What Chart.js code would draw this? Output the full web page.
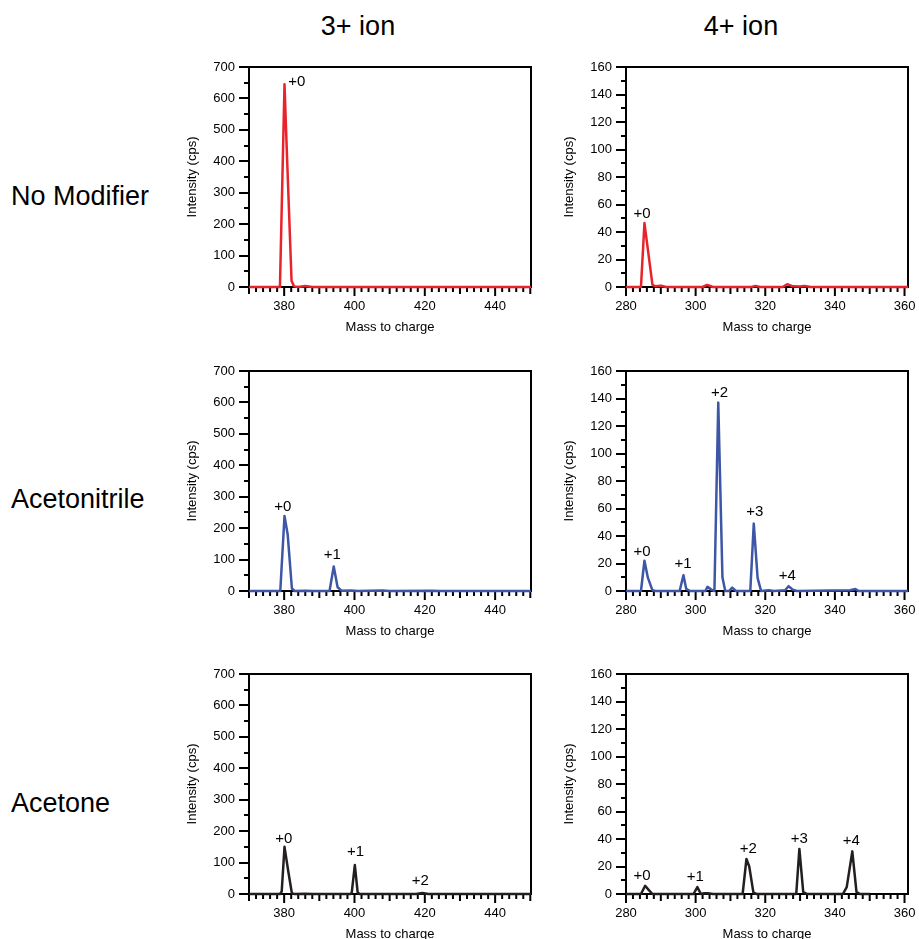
<!DOCTYPE html>
<html><head><meta charset="utf-8">
<script src="https://cdn.jsdelivr.net/npm/chart.js@4"></script>
<style>
html,body{margin:0;padding:0;background:#fff;overflow:hidden;width:919px;height:939px;}
canvas{position:absolute;}
.t{position:absolute;font-family:"Liberation Sans",Arial,Helvetica,sans-serif;font-size:27px;color:#000;white-space:nowrap;line-height:1;}
</style></head><body>
<div class="t" style="left:358px;top:26px;transform:translate(-50%,-50%)">3+ ion</div>
<div class="t" style="left:741px;top:26px;transform:translate(-50%,-50%)">4+ ion</div>
<div class="t" style="left:11px;top:196px;transform:translateY(-50%)">No Modifier</div>
<div class="t" style="left:11px;top:499px;transform:translateY(-50%)">Acetonitrile</div>
<div class="t" style="left:11px;top:803px;transform:translateY(-50%)">Acetone</div>
<canvas id="c1" width="363" height="278" style="left:180px;top:57px"></canvas>
<canvas id="c2" width="362" height="278" style="left:557px;top:57px"></canvas>
<canvas id="c3" width="363" height="278" style="left:180px;top:361px"></canvas>
<canvas id="c4" width="362" height="278" style="left:557px;top:361px"></canvas>
<canvas id="c5" width="363" height="278" style="left:180px;top:664px"></canvas>
<canvas id="c6" width="362" height="278" style="left:557px;top:664px"></canvas>
<script>
// ---- tick labels ----
const yTicks3 = [0,100,200,300,400,500,600,700];
const yTicks4 = [0,20,40,60,80,100,120,140,160];
const xTicks3 = [380,400,420,440];
const xTicks4 = [280,300,320,340,360];

// ---- No Modifier, 3+ ----
const nm3X = [370,378.8,380.1,380.7,382.1,382.8,384,386,388,450.2];
const nm3Y = [0,0,645,450,20,2,0,3,0,0];
// ---- No Modifier, 4+ ----
const nm4X = [280,284.3,285.3,287.6,288.5,290,291.5,302,303.3,305,316,317.2,318.5,325,326.3,328,330,331.3,333,361];
const nm4Y = [0,0,46.5,1.5,0.5,1,0,0,1.5,0,0,0.8,0,0,2,0.5,0.3,0.8,0,0];
// ---- Acetonitrile, 3+ ----
const acn3X = [370,378.9,380.1,381,382.2,383,386,388,392.9,394.1,395.2,396.3,399,401,408,410,422,424,450.2];
const acn3Y = [0,0,239,180,8,0,1,0,0,78,12,1,1.5,0,1.5,0,1,0,0];
// ---- Acetonitrile, 4+ ----
const acn4X = [280,284.3,285.3,286.3,287.6,288.5,295.4,296.5,297.3,298.4,302.8,303.4,304.5,305.4,306.5,307.7,308.5,309.6,310.5,311.6,315.7,316.7,317.8,318.8,321,322.5,325.7,326.7,327.9,329.1,344.4,345.9,346.8,361];
const acn4Y = [0,0,22,9.5,0.5,0,0,11.5,1.5,0,0,3,1,0,137,10,0,0,2.5,0,0,49,9.5,0,0.5,0,0.5,3.5,1,0,0.5,1.5,0,0];
// ---- Acetone, 3+ ----
const ace3X = [370,378.8,379.3,380.1,381.2,382.2,383,386,388,398.8,399.2,400.1,400.9,401.5,417.5,419.3,421,450.2];
const ace3Y = [0,0,8,150,70,2,0,1,0,0,3,92,5,0,0,3,0,0];
// ---- Acetone, 4+ ----
const ace4X = [280,284.3,285.5,286.5,287.6,299.4,300.5,301.5,302.5,303.5,305,313.5,314.6,315.4,316.6,317.5,328.9,329.8,330.9,332,342.3,343.4,345,346.2,347.2,350];
const ace4Y = [0,0,6,3,0,0,5,0,0.5,0.5,0,0,25.5,20,1,0,0,32.8,1.5,0,0,5,31,1.5,0,0];

// ---- peak labels (text, m/z, intensity at label centre) ----
const nm3Lab  = [['+0',383.6,652]];
const nm4Lab  = [['+0',284.6,53]];
const acn3Lab = [['+0',379.6,269],['+1',393.7,114]];
const acn4Lab = [['+0',284.6,28.4],['+1',296.4,19.5],['+2',306.9,144.2],['+3',317,57.6],['+4',326.3,10.9]];
const ace3Lab = [['+0',379.9,177],['+1',400.3,133],['+2',418.7,42.5]];
const ace4Lab = [['+0',284.6,13.5],['+1',299.9,12.2],['+2',315.1,33],['+3',329.8,40.3],['+4',344.7,38.3]];

const RED = '#e8232b', BLUE = '#3d56a6', BLACK = '#231f20';
const FONT = '"Liberation Sans", Arial, Helvetica, sans-serif';

const framePlugin = {
  id: 'frame',
  beforeDatasetsDraw(chart) {
    const {ctx, chartArea: a, scales: {x, y}} = chart;
    const c = chart.options.plugins.frame;
    ctx.save();
    ctx.strokeStyle = '#000';
    ctx.lineWidth = 2;
    ctx.beginPath();
    for (let v = y.min; v <= y.max + 1e-6; v += c.yMinor) {
      const py = Math.round(y.getPixelForValue(v));
      const major = Math.abs(v / c.yMajor - Math.round(v / c.yMajor)) < 1e-6;
      const len = major ? 10 : 5;
      ctx.moveTo(a.left - len, py); ctx.lineTo(a.left, py);
    }
    const start = Math.ceil(x.min / 2) * 2;
    for (let v = start; v <= x.max + 1e-6; v += 2) {
      const px = x.getPixelForValue(v);
      let len = 5;
      if (v % 20 === 0) len = 9; else if (v % 10 === 0) len = 7;
      ctx.moveTo(px, a.bottom); ctx.lineTo(px, a.bottom + len);
    }
    ctx.stroke();
    ctx.lineWidth = 2;
    ctx.strokeRect(a.left, a.top, a.right - a.left, a.bottom - a.top);
    ctx.restore();
  },
  afterDatasetsDraw(chart) {
    const {ctx, scales: {x, y}} = chart;
    const labs = chart.options.plugins.frame.labels;
    ctx.save();
    ctx.fillStyle = '#000';
    ctx.font = '15px ' + FONT;
    ctx.textAlign = 'center';
    ctx.textBaseline = 'middle';
    labs.forEach(([t, lx, ly]) => ctx.fillText(t, x.getPixelForValue(lx), y.getPixelForValue(ly)));
    ctx.restore();
  }
};

function zeroPad(s) { s.paddingTop = 0; s.paddingBottom = 0; s.paddingLeft = 0; s.paddingRight = 0; }

function make(id, xs, ys, color, labels, is3) {
  const xTicks = is3 ? xTicks3 : xTicks4;
  const yTicks = is3 ? yTicks3 : yTicks4;
  new Chart(document.getElementById(id), {
    type: 'line',
    data: { datasets: [{
      data: xs.map((v, i) => ({x: v, y: ys[i]})),
      borderColor: color, borderWidth: 2.5, pointRadius: 0, tension: 0, clip: false, fill: false,
      borderJoinStyle: 'round'
    }]},
    options: {
      responsive: false, animation: false, devicePixelRatio: 1,
      layout: { padding: { top: 10, right: is3 ? 12 : 11, left: 0, bottom: 0 } },
      plugins: { legend: {display: false}, tooltip: {enabled: false},
        frame: { yMajor: is3 ? 100 : 20, yMinor: is3 ? 50 : 10, labels } },
      scales: {
        x: {
          type: 'linear', min: is3 ? 370 : 280, max: is3 ? 450.2 : 361,
          grid: {display: false, drawTicks: false, tickLength: 0}, border: {display: false},
          afterBuildTicks: s => { s.ticks = xTicks.map(v => ({value: v})); },
          afterFit: s => { s.height = 48; zeroPad(s); },
          ticks: { autoSkip: false, maxRotation: 0, padding: 12, color: '#000', font: {size: 13, family: FONT} },
          title: { display: true, text: 'Mass to charge', color: '#000', padding: {top: 0, bottom: 0}, font: {size: 13, family: FONT} }
        },
        y: {
          type: 'linear', min: 0, max: is3 ? 700 : 160,
          grid: {display: false, drawTicks: false, tickLength: 0}, border: {display: false},
          afterBuildTicks: s => { s.ticks = yTicks.map(v => ({value: v})); },
          afterFit: s => { s.width = 69; zeroPad(s); },
          ticks: { autoSkip: false, padding: 14, color: '#000', font: {size: 13, family: FONT} },
          title: { display: true, text: 'Intensity (cps)', color: '#000', padding: {top: 5, bottom: 0}, font: {size: 13, family: FONT} }
        }
      }
    },
    plugins: [framePlugin]
  });
}

make('c1', nm3X, nm3Y, RED, nm3Lab, true);
make('c2', nm4X, nm4Y, RED, nm4Lab, false);
make('c3', acn3X, acn3Y, BLUE, acn3Lab, true);
make('c4', acn4X, acn4Y, BLUE, acn4Lab, false);
make('c5', ace3X, ace3Y, BLACK, ace3Lab, true);
make('c6', ace4X, ace4Y, BLACK, ace4Lab, false);
</script>
</body></html>
